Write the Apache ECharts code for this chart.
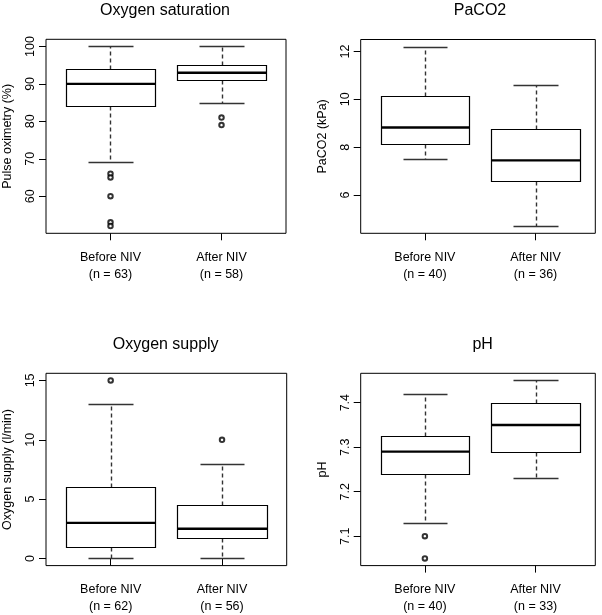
<!DOCTYPE html>
<html>
<head>
<meta charset="utf-8">
<script src="https://cdn.jsdelivr.net/npm/echarts@6/dist/echarts.min.js"></script>
<style>
html,body{margin:0;padding:0;background:#fff;}
#chart{width:602px;height:615px;}
</style>
</head>
<body>
<div id="chart"></div>
<script>
// ---------- data ----------
const groups = ['Before NIV', 'After NIV'];
const panelTitles = ['Oxygen saturation', 'PaCO2', 'Oxygen supply', 'pH'];
const yAxisNames = ['Pulse oximetry (%)', 'PaCO2 (kPa)', 'Oxygen supply (l/min)', 'pH'];

// sample sizes per group
const satN = [63, 58];
const co2N = [40, 36];
const o2N = [62, 56];
const phN = [40, 33];

// box stats: [lower whisker, Q1, median, Q3, upper whisker]
const satBefore = [69, 84, 90, 94, 100];
const satAfter = [85, 91, 93, 95, 100];
const co2Before = [7.5, 8.13, 8.82, 10.13, 12.2];
const co2After = [4.7, 6.6, 7.45, 8.75, 10.6];
const o2Before = [0, 1, 3, 6, 13];
const o2After = [0, 1.75, 2.5, 4.5, 8];
const phBefore = [7.13, 7.24, 7.29, 7.325, 7.42];
const phAfter = [7.23, 7.29, 7.35, 7.4, 7.45];

// outliers: [group (1 = before, 2 = after), value]
const satOutliers = [[1, 66], [1, 65], [1, 60], [1, 53], [1, 52], [2, 81], [2, 79]];
const co2Outliers = [];
const o2Outliers = [[1, 15], [2, 10]];
const phOutliers = [[1, 7.1], [1, 7.05]];

// y-axis tick labels
const satTicks = [60, 70, 80, 90, 100];
const co2Ticks = [6, 8, 10, 12];
const o2Ticks = [0, 5, 10, 15];
const phTicks = [7.1, 7.2, 7.3, 7.4];

// y ranges (R style: data range extended 4%)
const satRange = [50.08, 101.92];
const co2Range = [4.4, 12.5];
const o2Range = [-0.6, 15.6];
const phRange = [7.034, 7.466];

// ---------- layout ----------
const FONT = '"Liberation Sans", Arial, Helvetica, sans-serif';
const grids = [
  {left: 46, top: 39.3, width: 240, height: 194},
  {left: 360.7, top: 39.5, width: 234.6, height: 193.8},
  {left: 46, top: 373.3, width: 240.7, height: 194},
  {left: 360.7, top: 373.3, width: 234.6, height: 194}
];
const xRanges = [[0.419, 2.581], [0.42, 2.54], [0.419, 2.581], [0.42, 2.54]];
const titlePos = [[165, 3], [480, 3], [165.7, 336.5], [482.7, 336.5]];

const panels = [
  {box: [satBefore, satAfter], out: satOutliers, n: satN, ticks: satTicks, range: satRange},
  {box: [co2Before, co2After], out: co2Outliers, n: co2N, ticks: co2Ticks, range: co2Range},
  {box: [o2Before, o2After], out: o2Outliers, n: o2N, ticks: o2Ticks, range: o2Range},
  {box: [phBefore, phAfter], out: phOutliers, n: phN, ticks: phTicks, range: phRange}
];

function crisp(v) { return Math.round(v) + 0.5; }

function renderBox(params, api) {
  const x = api.value(0);
  const lo = api.value(1), q1 = api.value(2), med = api.value(3), q3 = api.value(4), hi = api.value(5);
  const hw = 0.4, cw = 0.2;
  const xl = crisp(api.coord([x - hw, 0])[0]);
  const xr = crisp(api.coord([x + hw, 0])[0]);
  const xc = crisp(api.coord([x, 0])[0]);
  const cl = crisp(api.coord([x - cw, 0])[0]);
  const cr = crisp(api.coord([x + cw, 0])[0]);
  const y = v => api.coord([x, v])[1];
  const yq1 = crisp(y(q1)), yq3 = crisp(y(q3)), ymed = y(med), ylo = crisp(y(lo)), yhi = crisp(y(hi));
  const whiskStyle = {stroke: '#333', lineWidth: 1.4, lineDash: [4, 3]};
  const capStyle = {stroke: '#333', lineWidth: 1.4};
  return {
    type: 'group',
    children: [
      {type: 'line', shape: {x1: xc, y1: yq3, x2: xc, y2: yhi}, style: whiskStyle},
      {type: 'line', shape: {x1: xc, y1: yq1, x2: xc, y2: ylo}, style: whiskStyle},
      {type: 'line', shape: {x1: cl, y1: yhi, x2: cr, y2: yhi}, style: capStyle},
      {type: 'line', shape: {x1: cl, y1: ylo, x2: cr, y2: ylo}, style: capStyle},
      {type: 'rect', shape: {x: xl, y: yq3, width: xr - xl, height: yq1 - yq3}, style: {stroke: '#000', lineWidth: 1.2, fill: '#fff'}},
      {type: 'line', shape: {x1: xl, y1: ymed, x2: xr, y2: ymed}, style: {stroke: '#000', lineWidth: 2.4}}
    ]
  };
}

const option = {
  animation: false,
  backgroundColor: '#fff',
  textStyle: {fontFamily: FONT},
  title: panelTitles.map((t, i) => ({
    text: t, left: titlePos[i][0], top: titlePos[i][1], textAlign: 'center', padding: 0,
    textStyle: {fontFamily: FONT, fontSize: 16, fontWeight: 'normal', color: '#000'}
  })),
  grid: grids.map(g => Object.assign({show: true, borderColor: '#000', borderWidth: 1, backgroundColor: 'transparent', containLabel: false}, g)),
  xAxis: panels.map((p, i) => ({
    type: 'value', gridIndex: i, min: xRanges[i][0], max: xRanges[i][1],
    axisLine: {show: false}, splitLine: {show: false},
    axisTick: {show: true, customValues: [1, 2], length: 7, lineStyle: {color: '#000'}},
    axisLabel: {
      show: true, customValues: [1, 2], margin: 16,
      formatter: v => groups[Math.round(v) - 1] + '\n(n = ' + p.n[Math.round(v) - 1] + ')',
      fontFamily: FONT, fontSize: 12.5, color: '#000', lineHeight: 16.7, align: 'center'
    }
  })),
  yAxis: panels.map((p, i) => ({
    type: 'value', gridIndex: i, min: p.range[0], max: p.range[1],
    name: yAxisNames[i], nameLocation: 'middle', nameGap: 32, nameRotate: 90,
    nameTextStyle: {fontFamily: FONT, fontSize: 12.5, color: '#000'},
    axisLine: {show: false}, splitLine: {show: false},
    axisTick: {show: true, customValues: p.ticks, length: 7, lineStyle: {color: '#000'}},
    axisLabel: {show: true, customValues: p.ticks, rotate: 90, margin: 9, fontFamily: FONT, fontSize: 12.5, color: '#000'}
  })),
  series: []
};

panels.forEach((p, i) => {
  option.series.push({
    type: 'custom', xAxisIndex: i, yAxisIndex: i, coordinateSystem: 'cartesian2d',
    renderItem: renderBox,
    data: p.box.map((s, k) => [k + 1].concat(s)),
    silent: true, z: 2
  });
  option.series.push({
    type: 'scatter', xAxisIndex: i, yAxisIndex: i,
    symbol: 'emptyCircle', symbolSize: 4.5,
    itemStyle: {color: '#000', borderColor: '#000', borderWidth: 1.7},
    data: p.out, silent: true, z: 3
  });
});

const chart = echarts.init(document.getElementById('chart'), null, {renderer: 'canvas'});
chart.setOption(option);
</script>
</body>
</html>
